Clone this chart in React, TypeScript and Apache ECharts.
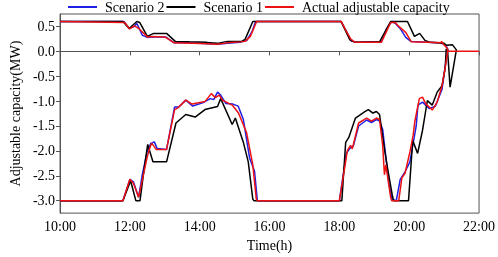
import React, { useEffect, useRef } from "react";
import * as echarts from "echarts";

const xTicks = ["10:00", "12:00", "14:00", "16:00", "18:00", "20:00", "22:00"];
const seriesNames = ["Scenario 2", "Scenario 1", "Actual adjustable capacity"];

// [hour, MW]
const s2Upper: number[][] = [
  [10, 0.6], [11.83, 0.6], [11.98, 0.46], [12.12, 0.5], [12.2, 0.56], [12.36, 0.32], [12.5, 0.28],
  [12.62, 0.29], [13.02, 0.29], [13.27, 0.17], [13.6, 0.17], [14.0, 0.16], [14.5, 0.14], [14.8, 0.16],
  [15.15, 0.18], [15.35, 0.22], [15.5, 0.4], [15.6, 0.6], [18.05, 0.6], [18.2, 0.4], [18.35, 0.2],
  [18.6, 0.18], [19.2, 0.19], [19.35, 0.45], [19.5, 0.6], [19.62, 0.55], [19.75, 0.45], [19.9, 0.28],
  [20.05, 0.2], [20.5, 0.18], [20.9, 0.17], [21.05, 0.12], [21.1, 0.05], [21.12, 0.0],
];
const s2Lower: number[][] = [
  [10, -3], [11.8, -3], [12.0, -2.57], [12.1, -2.62], [12.25, -2.93], [12.35, -2.5], [12.5, -2.0],
  [12.6, -1.85], [12.7, -1.82], [12.78, -1.95], [13.05, -1.97], [13.28, -1.12], [13.4, -1.12],
  [13.6, -0.98], [13.8, -1.1], [14.1, -1.03], [14.3, -0.95], [14.4, -0.97], [14.51, -0.82],
  [14.6, -0.88], [14.75, -1.05], [14.95, -1.06], [15.1, -1.1], [15.25, -1.37], [15.43, -2.15],
  [15.57, -2.41], [15.65, -3], [18.0, -3], [18.2, -2.05], [18.3, -1.95], [18.4, -1.9], [18.55, -1.5],
  [18.78, -1.38], [18.92, -1.43], [19.06, -1.37], [19.15, -1.4], [19.24, -1.57], [19.42, -2.67],
  [19.51, -2.97], [19.63, -3], [19.74, -2.58], [19.88, -2.42], [20.02, -2.22], [20.2, -1.5],
  [20.25, -1.08], [20.38, -1.02], [20.57, -1.15], [20.75, -1.1], [20.94, -0.76], [21.07, -0.1], [21.1, 0],
];
const s1Upper: number[][] = [
  [10, 0.6], [11.8, 0.6], [11.98, 0.46], [12.12, 0.55], [12.2, 0.6], [12.28, 0.58], [12.5, 0.3],
  [12.68, 0.36], [13.05, 0.36], [13.3, 0.2], [13.7, 0.19], [14.2, 0.18], [14.5, 0.16], [14.8, 0.2],
  [15.2, 0.2], [15.3, 0.24], [15.52, 0.6], [18.05, 0.6], [18.15, 0.45], [18.3, 0.23], [18.45, 0.18],
  [19.15, 0.19], [19.47, 0.6], [19.95, 0.6], [20.15, 0.3], [20.3, 0.36], [20.45, 0.22], [20.6, 0.18],
  [21.0, 0.16], [21.06, 0.12], [21.24, 0.13], [21.35, 0.03], [21.17, -0.72], [21.1, 0.0],
];
const s1Lower: number[][] = [
  [10, -3], [11.8, -3], [12.02, -2.6], [12.17, -3], [12.29, -3], [12.4, -2.4], [12.51, -1.87],
  [12.66, -2.22], [13.05, -2.22], [13.32, -1.44], [13.6, -1.27], [13.87, -1.32], [14.15, -1.17],
  [14.51, -1.11], [14.6, -0.95], [14.93, -1.47], [15.02, -1.34], [15.25, -1.83], [15.39, -2.22],
  [15.52, -2.97], [15.55, -3], [18.07, -3], [18.18, -1.83], [18.27, -1.73], [18.46, -1.34],
  [18.73, -1.21], [18.83, -1.17], [18.96, -1.24], [19.06, -1.21], [19.15, -1.27], [19.29, -1.96],
  [19.38, -2.35], [19.51, -2.87], [19.55, -3], [19.98, -3], [20.1, -1.79], [20.24, -2.05],
  [20.38, -1.59], [20.52, -0.99], [20.66, -1.08], [20.8, -0.82], [20.94, -0.69], [21.03, -0.33], [21.06, 0.05],
];
const actualUpper: number[][] = [
  [10, 0.6], [11.85, 0.58], [11.99, 0.45], [12.13, 0.51], [12.27, 0.45], [12.5, 0.29], [12.63, 0.3],
  [13.0, 0.29], [13.27, 0.17], [13.8, 0.16], [14.2, 0.15], [14.51, 0.14], [14.79, 0.17], [15.16, 0.19],
  [15.3, 0.2], [15.45, 0.3], [15.63, 0.6], [18.05, 0.6], [18.2, 0.4], [18.32, 0.25], [18.45, 0.18],
  [19.2, 0.18], [19.35, 0.4], [19.47, 0.58], [19.6, 0.58], [19.7, 0.5], [19.9, 0.38], [20.06, 0.19],
  [20.5, 0.18], [20.9, 0.17], [20.93, 0.2], [20.97, 0.15], [21.1, 0.05], [21.1, 0],
];
const actualLower: number[][] = [
  [10, -3], [11.8, -3], [12.0, -2.57], [12.1, -2.65], [12.25, -2.93], [12.5, -2.11], [12.59, -1.9],
  [12.63, -1.85], [12.75, -1.97], [13.05, -1.97], [13.28, -1.17], [13.37, -1.14], [13.6, -0.98],
  [13.78, -1.06], [14.15, -1.01], [14.33, -0.85], [14.45, -0.93], [14.56, -0.88], [14.65, -0.98],
  [14.93, -1.08], [15.11, -1.24], [15.34, -1.63], [15.52, -2.28], [15.62, -2.97], [15.65, -3],
  [18.0, -3], [18.23, -1.99], [18.32, -1.89], [18.37, -1.96], [18.55, -1.44], [18.78, -1.34],
  [18.92, -1.4], [19.06, -1.34], [19.15, -1.37], [19.24, -1.89], [19.29, -2.48], [19.33, -2.28],
  [19.47, -2.94], [19.5, -3], [19.7, -3], [19.79, -2.54], [19.88, -2.45], [20.02, -2.02], [20.11, -1.7],
  [20.16, -1.41], [20.29, -0.95], [20.38, -0.92], [20.47, -1.05], [20.66, -1.18], [20.8, -1.02],
  [20.94, -0.69], [21.03, -0.33], [21.1, 0], [22, 0],
];

const FONT = "'Liberation Serif', 'Times New Roman', serif";
const colors = ["#1f1fe6", "#000000", "#ee1111"];

export default function App() {
  const ref = useRef<HTMLDivElement>(null);
  useEffect(() => {
    if (!ref.current) return;
    const chart = echarts.init(ref.current, undefined, { renderer: "svg" });
    const mk = (name: string, data: number[][], color: string) => ({
      name,
      type: "line",
      data,
      symbol: "none",
      lineStyle: { color, width: 1.5 },
      itemStyle: { color },
    });
    chart.setOption({
      animation: false,
      textStyle: { fontFamily: FONT },
      legend: {
        data: seriesNames,
        icon: "rect",
        left: 68,
        top: 0,
        itemWidth: 29,
        itemHeight: 2,
        itemGap: 2,
        textStyle: { fontFamily: FONT, fontSize: 14, color: "#000", padding: [0, 0, 0, 3] },
        padding: 0,
      },
      grid: {
        left: 46,
        right: 16,
        top: 14,
        bottom: 38,
        show: true,
        borderColor: "#555",
        borderWidth: 1,
        backgroundColor: "transparent",
      },
      xAxis: {
        type: "value",
        min: 10,
        max: 22,
        interval: 2,
        name: "Time(h)",
        nameLocation: "middle",
        nameGap: 22,
        nameTextStyle: { fontFamily: FONT, fontSize: 14, color: "#000" },
        axisLine: { lineStyle: { color: "#555", width: 1 } },
        axisTick: { show: true, length: 4, lineStyle: { color: "#555" } },
        splitLine: { show: false },
        axisLabel: {
          fontFamily: FONT,
          fontSize: 14,
          color: "#000",
          margin: 6,
          formatter: (v: number) => xTicks[Math.round((v - 10) / 2)] ?? "",
        },
      },
      yAxis: {
        type: "value",
        min: -3.25,
        max: 0.75,
        splitNumber: 8,
        name: "Adjustable capacity(MW)",
        nameLocation: "middle",
        nameGap: 33,
        nameTextStyle: { fontFamily: FONT, fontSize: 14, color: "#000" },
        axisLine: { show: true, lineStyle: { color: "#555", width: 1 } },
        axisTick: { show: true, length: 4, lineStyle: { color: "#555" } },
        splitLine: { show: false },
        axisLabel: {
          fontFamily: FONT,
          fontSize: 14,
          color: "#000",
          margin: 5,
          showMinLabel: false,
          showMaxLabel: false,
          formatter: (v: number) => {
            const r = Math.round(v * 2) / 2;
            if (Math.abs(r - v) > 1e-6) return "";
            return r.toFixed(1);
          },
        },
      },
      series: [
        mk(seriesNames[0], s2Upper, colors[0]),
        mk(seriesNames[0], s2Lower, colors[0]),
        mk(seriesNames[1], s1Upper, colors[1]),
        mk(seriesNames[1], s1Lower, colors[1]),
        mk(seriesNames[2], actualUpper, colors[2]),
        mk(seriesNames[2], actualLower, colors[2]),
      ],
    });
    return () => chart.dispose();
  }, []);
  return (
    <div
      ref={ref}
      style={{ position: "fixed", left: 0, top: 0, width: 498, height: 257 }}
    />
  );
}
